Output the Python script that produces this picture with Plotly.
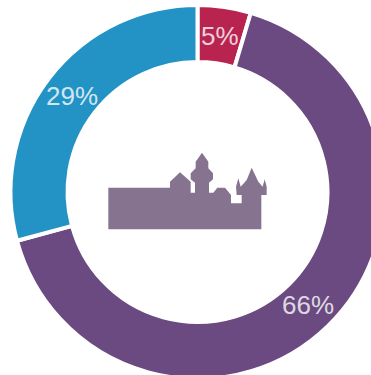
import math
import plotly.graph_objects as go

labels = ["Red", "Purple", "Blue"]
values = [4.6, 66.2, 29.2]
colors = ["#b8234f", "#6a4a80", "#2393c6"]

W, H = 400, 400
castle_zoom = [(55,143),(240,143),(240,125),(270,97),(302,125),(302,158),(315,158),(315,128),(302,118),(302,100),
 (317,85),(317,65),(336,38),(355,65),(355,85),(369,100),(369,118),(357,128),(357,158),(370,158),(382,143),(405,143),
 (423,165),(423,190),(455,190),(455,165),(440,165),(438,140),(445,115),(452,140),(470,120),(485,83),(505,125),
 (518,140),(524,118),(530,140),(530,165),(514,165),(514,268),(55,268)]

def pt(p):
    x = 90 + p[0] / 3
    y = 140 + p[1] / 3
    return f"{x / W:.5f},{1 - y / H:.5f}"

path = "M" + " L".join(pt(p) for p in castle_zoom) + " Z"

cx, cy, r_outer = 197.5, 192, 187
hole = 0.695
r_label = 158

annotations = []
total = sum(values)
acc = 0
for v in values:
    mid = (acc + v / 2) / total * 2 * math.pi
    acc += v
    annotations.append(dict(
        xref="paper", yref="paper", showarrow=False, xanchor="center", yanchor="middle",
        x=(cx + r_label * math.sin(mid)) / W, y=1 - (cy - r_label * math.cos(mid)) / H,
        text=f"{v / total:.0%}",
        font=dict(family="Liberation Sans", size=26, color="rgba(255,255,255,0.8)"),
    ))

fig = go.Figure(go.Pie(
    labels=labels, values=values, sort=False, direction="clockwise", rotation=0,
    hole=hole,
    marker=dict(colors=colors, line=dict(color="white", width=4)),
    textinfo="none",
    domain=dict(x=[(cx - r_outer) / W, (cx + r_outer) / W],
                y=[1 - (cy + r_outer) / H, 1 - (cy - r_outer) / H]),
    showlegend=False,
))
fig.update_layout(
    width=W, height=H, autosize=False, margin=dict(l=0, r=0, t=0, b=0),
    paper_bgcolor="white", showlegend=False, annotations=annotations,
    shapes=[dict(type="path", xref="paper", yref="paper", path=path,
                 fillcolor="#85738f", line=dict(width=0), layer="above")],
)
fig.write_html("out.html", config={"displayModeBar": False},
               post_script="document.body.style.margin='0';document.body.style.overflow='hidden';document.documentElement.style.overflow='hidden';")
